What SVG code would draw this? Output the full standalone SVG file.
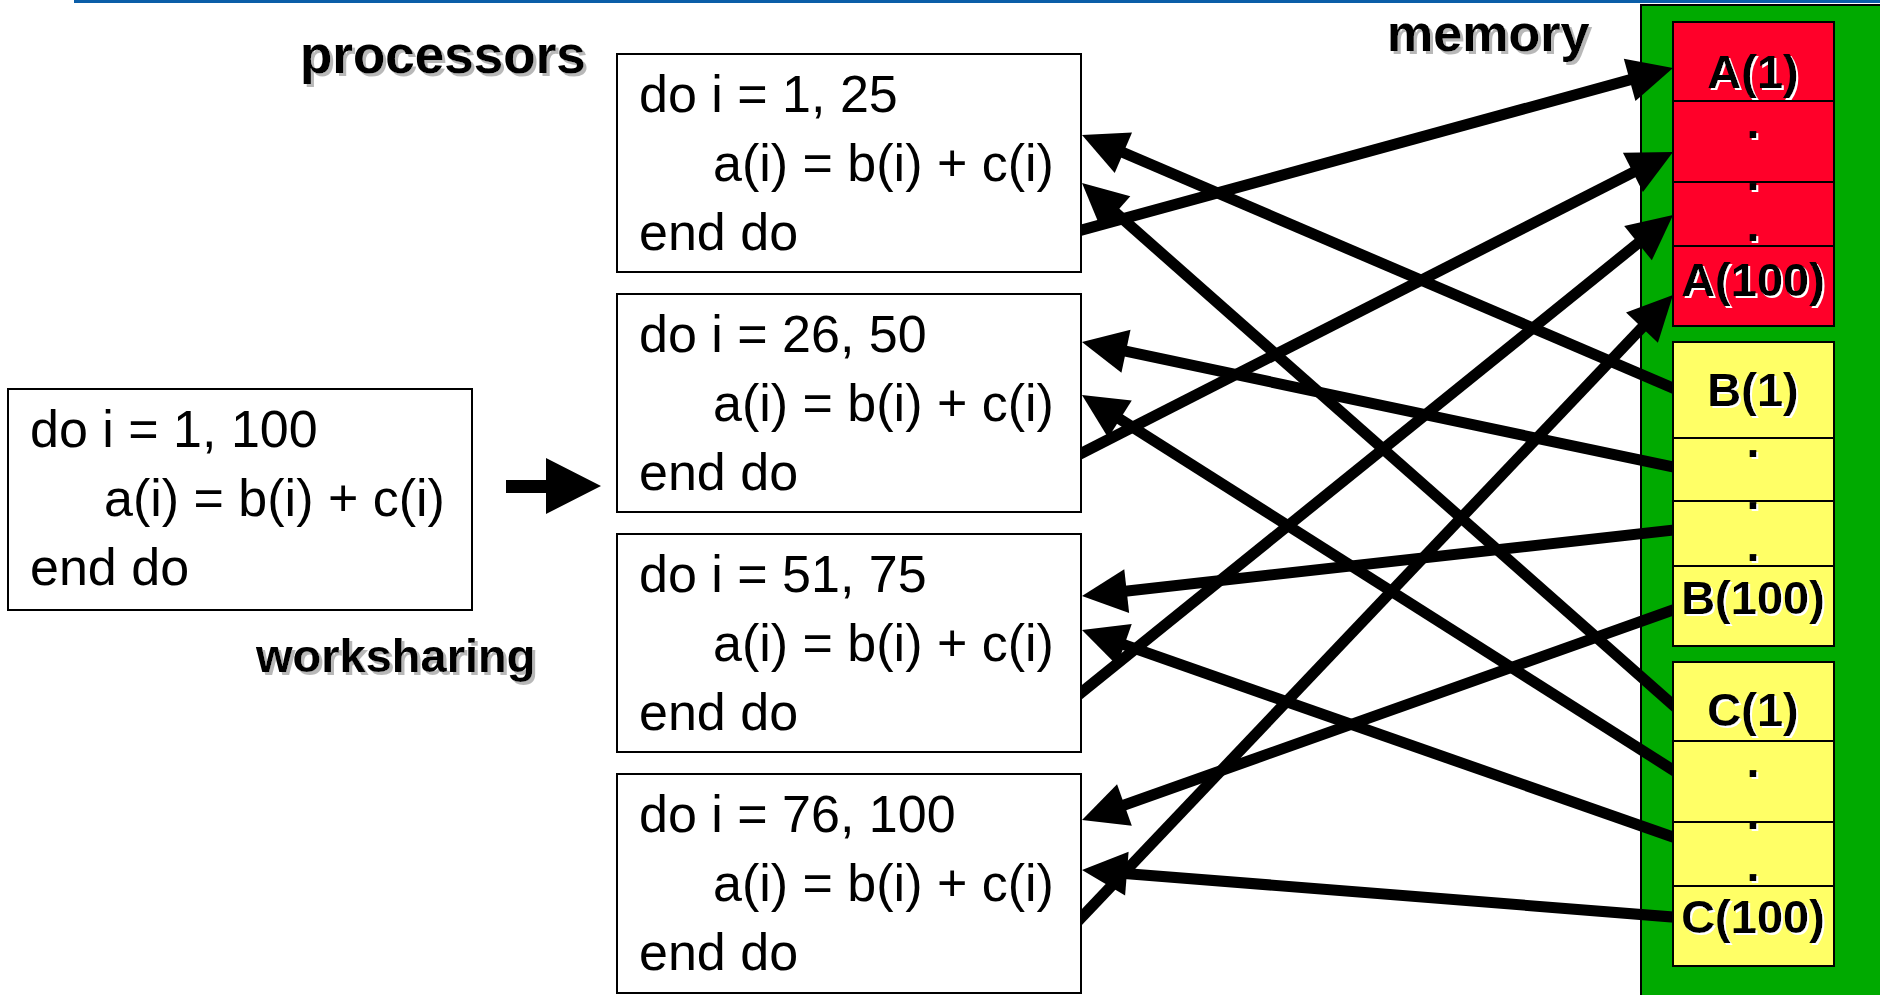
<svg xmlns="http://www.w3.org/2000/svg" width="1880" height="995" viewBox="0 0 1880 995">
  <defs>
    <style>
      .code{font-family:"Liberation Sans",Arial,sans-serif;font-size:52px;fill:#000}
      .box{fill:#fff;stroke:#000;stroke-width:2}
      .title{font-family:"Liberation Sans",Arial,sans-serif;font-weight:bold;fill:#000;filter:url(#greyShadow)}
      .red{fill:#ff0029;stroke:#000;stroke-width:2}
      .yellow{fill:#ffff66;stroke:#000;stroke-width:2}
      .lbl{font-family:"Liberation Sans",Arial,sans-serif;font-weight:bold;font-size:47px;fill:#000;text-anchor:middle;filter:url(#whiteShadow)}
      .conn{stroke:#000;stroke-width:11;fill:none;marker-end:url(#head)}
    </style>
    <marker id="head" markerUnits="userSpaceOnUse" markerWidth="45" markerHeight="44" refX="15" refY="22" orient="auto" overflow="visible">
      <path d="M0,0 L45,22 L0,44 z" fill="#000"/>
    </marker>
    <filter id="greyShadow" x="-5%" y="-10%" width="115%" height="140%">
      <feOffset in="SourceAlpha" dx="3" dy="3" result="off"/>
      <feFlood flood-color="#b8b8b8"/>
      <feComposite in2="off" operator="in" result="sh"/>
      <feMerge><feMergeNode in="sh"/><feMergeNode in="SourceGraphic"/></feMerge>
    </filter>
    <filter id="whiteShadow" x="-5%" y="-10%" width="115%" height="140%">
      <feOffset in="SourceAlpha" dx="2" dy="2" result="off"/>
      <feFlood flood-color="#ffffff"/>
      <feComposite in2="off" operator="in" result="sh"/>
      <feMerge><feMergeNode in="sh"/><feMergeNode in="SourceGraphic"/></feMerge>
    </filter>
    <clipPath id="span">
      <rect x="1080" y="0" width="594" height="995"/>
    </clipPath>
  </defs>

  <!-- header rule -->
  <rect x="74" y="0" width="1806" height="3" fill="#0b5ea8"/>

  <!-- labels -->
  <text id="lbl-processors" class="title" x="300" y="73" font-size="53">processors</text>
  <text id="lbl-memory" class="title" x="1387" y="51" font-size="52">memory</text>
  <text id="lbl-worksharing" class="title" x="256" y="672" font-size="47">worksharing</text>

  <!-- serial loop -->
  <g id="serial-loop">
    <rect class="box" x="8" y="389" width="464" height="221"/>
    <text class="code" x="30" y="447">do i = 1, 100</text>
    <text class="code" x="104" y="516">a(i) = b(i) + c(i)</text>
    <text class="code" x="30" y="585">end do</text>
  </g>

  <!-- split arrow -->
  <g id="split-arrow">
    <polygon points="506,480 546,480 546,458 601,486 546,514 546,493 506,493" fill="#000"/>
  </g>

  <!-- processor chunks -->
  <g id="proc-1">
    <rect class="box" x="617" y="54" width="464" height="218"/>
    <text class="code" x="639" y="112">do i = 1, 25</text>
    <text class="code" x="713" y="181">a(i) = b(i) + c(i)</text>
    <text class="code" x="639" y="250">end do</text>
  </g>
  <g id="proc-2">
    <rect class="box" x="617" y="294" width="464" height="218"/>
    <text class="code" x="639" y="352">do i = 26, 50</text>
    <text class="code" x="713" y="421">a(i) = b(i) + c(i)</text>
    <text class="code" x="639" y="490">end do</text>
  </g>
  <g id="proc-3">
    <rect class="box" x="617" y="534" width="464" height="218"/>
    <text class="code" x="639" y="592">do i = 51, 75</text>
    <text class="code" x="713" y="661">a(i) = b(i) + c(i)</text>
    <text class="code" x="639" y="730">end do</text>
  </g>
  <g id="proc-4">
    <rect class="box" x="617" y="774" width="464" height="219"/>
    <text class="code" x="639" y="832">do i = 76, 100</text>
    <text class="code" x="713" y="901">a(i) = b(i) + c(i)</text>
    <text class="code" x="639" y="970">end do</text>
  </g>

  <!-- shared memory -->
  <g id="memory">
    <rect x="1641" y="5" width="260" height="1000" fill="#00aa00" stroke="#000" stroke-width="2"/>
  </g>
  <g id="array-a">
    <rect class="red" x="1673" y="22" width="161" height="79"/>
    <rect class="red" x="1673" y="101" width="161" height="81"/>
    <rect class="red" x="1673" y="182" width="161" height="64"/>
    <rect class="red" x="1673" y="246" width="161" height="80"/>
    <text class="lbl" x="1753" y="88">A(1)</text>
    <text class="lbl" x="1753" y="138">.</text>
    <text class="lbl" x="1753" y="190">.</text>
    <text class="lbl" x="1753" y="241">.</text>
    <text class="lbl" x="1753" y="296">A(100)</text>
  </g>
  <g id="array-b">
    <rect class="yellow" x="1673" y="342" width="161" height="96"/>
    <rect class="yellow" x="1673" y="438" width="161" height="63"/>
    <rect class="yellow" x="1673" y="501" width="161" height="65"/>
    <rect class="yellow" x="1673" y="566" width="161" height="80"/>
    <text class="lbl" x="1753" y="406">B(1)</text>
    <text class="lbl" x="1753" y="457">.</text>
    <text class="lbl" x="1753" y="509">.</text>
    <text class="lbl" x="1753" y="561">.</text>
    <text class="lbl" x="1753" y="614">B(100)</text>
  </g>
  <g id="array-c">
    <rect class="yellow" x="1673" y="662" width="161" height="79"/>
    <rect class="yellow" x="1673" y="741" width="161" height="81"/>
    <rect class="yellow" x="1673" y="822" width="161" height="64"/>
    <rect class="yellow" x="1673" y="886" width="161" height="80"/>
    <text class="lbl" x="1753" y="726">C(1)</text>
    <text class="lbl" x="1753" y="777">.</text>
    <text class="lbl" x="1753" y="829">.</text>
    <text class="lbl" x="1753" y="881">.</text>
    <text class="lbl" x="1753" y="933">C(100)</text>
  </g>

  <!-- data movement: loads from B and C, stores to A -->
  <g id="connectors" clip-path="url(#span)">
    <line class="conn" x1="1070.4" y1="233.2" x2="1644.1" y2="75.9"/>
    <line class="conn" x1="1684.0" y1="392.7" x2="1109.6" y2="146.8"/>
    <line class="conn" x1="1682.0" y1="712.9" x2="1104.5" y2="202.9"/>
    <line class="conn" x1="1071.3" y1="458.4" x2="1646.3" y2="165.6"/>
    <line class="conn" x1="1684.7" y1="469.5" x2="1111.3" y2="348.2"/>
    <line class="conn" x1="1683.1" y1="776.4" x2="1107.3" y2="411.1"/>
    <line class="conn" x1="1072.7" y1="699.5" x2="1649.7" y2="233.8"/>
    <line class="conn" x1="1684.9" y1="528.7" x2="1111.8" y2="592.7"/>
    <line class="conn" x1="1684.3" y1="841.0" x2="1110.3" y2="639.9"/>
    <line class="conn" x1="1073.7" y1="925.7" x2="1652.3" y2="316.7"/>
    <line class="conn" x1="1684.3" y1="606.0" x2="1110.3" y2="810.0"/>
    <line class="conn" x1="1685.0" y1="918.0" x2="1111.9" y2="872.4"/>
  </g>
</svg>
